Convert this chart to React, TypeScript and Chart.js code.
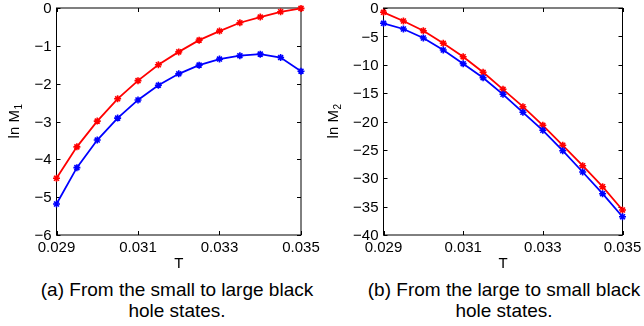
import React, { useEffect, useRef } from "react";
import { Chart, registerables } from "chart.js";

Chart.register(...registerables);

// ---- data ----
const temperatures = [0.029, 0.0295, 0.03, 0.0305, 0.031, 0.0315, 0.032, 0.0325, 0.033, 0.0335, 0.034, 0.0345, 0.035];

const m1Red = [-4.5, -3.67, -2.99, -2.4, -1.92, -1.5, -1.16, -0.85, -0.61, -0.39, -0.24, -0.1, -0.01];
const m1Blue = [-5.18, -4.22, -3.49, -2.91, -2.43, -2.04, -1.74, -1.51, -1.35, -1.26, -1.22, -1.31, -1.67];

const m2Red = [-0.76, -2.29, -4.0, -6.22, -8.58, -11.33, -14.33, -17.39, -20.67, -24.19, -27.79, -31.49, -35.59];
const m2Blue = [-2.7, -3.7, -5.29, -7.4, -9.81, -12.28, -15.21, -18.38, -21.55, -25.15, -28.9, -32.72, -36.78];

const xTicks = [0.029, 0.031, 0.033, 0.035];
const xTickLabels = ["0.029", "0.031", "0.033", "0.035"];
const yTicks1 = [-6, -5, -4, -3, -2, -1, 0];
const yTicks2 = [-40, -35, -30, -25, -20, -15, -10, -5, 0];

const captionA = ["(a) From the small to large black", "hole states."];
const captionB = ["(b) From the large to small black", "hole states."];

const FONT = '"Liberation Sans", Arial, Helvetica, sans-serif';

function fmt(v: number) {
  return v < 0 ? "\u2212" + Math.abs(v) : String(v);
}

type PanelProps = {
  red: number[];
  blue: number[];
  yMin: number;
  yTicks: number[];
  sub: string;
  padLeft: number;
  padRight: number;
  titleX: number;
};

function Panel({ red, blue, yMin, yTicks, sub, padLeft, padRight, titleX }: PanelProps) {
  const ref = useRef<HTMLCanvasElement | null>(null);
  useEffect(() => {
    const canvas = ref.current;
    if (!canvas) return;
    const framePlugin = {
      id: "matlabFrame",
      beforeDatasetsDraw(chart: any) {
        const { ctx, chartArea } = chart;
        const xs = chart.scales.x;
        const ys = chart.scales.y;
        const { left, right, top, bottom } = chartArea;
        ctx.save();
        ctx.strokeStyle = "#000";
        ctx.lineWidth = 1;
        ctx.strokeRect(left, top, right - left, bottom - top);
        const tl = 4;
        ctx.beginPath();
        xTicks.forEach((t) => {
          const px = Math.round(xs.getPixelForValue(t)) + 0.5;
          ctx.moveTo(px, bottom);
          ctx.lineTo(px, bottom - tl);
          ctx.moveTo(px, top);
          ctx.lineTo(px, top + tl);
        });
        yTicks.forEach((t) => {
          const py = Math.round(ys.getPixelForValue(t)) + 0.5;
          ctx.moveTo(left, py);
          ctx.lineTo(left + tl, py);
          ctx.moveTo(right, py);
          ctx.lineTo(right - tl, py);
        });
        ctx.stroke();
        // tick labels
        ctx.fillStyle = "#000";
        ctx.font = `15px ${FONT}`;
        ctx.textAlign = "center";
        ctx.textBaseline = "alphabetic";
        xTicks.forEach((t, i) => {
          ctx.fillText(xTickLabels[i], xs.getPixelForValue(t), bottom + 17);
        });
        ctx.textAlign = "right";
        ctx.textBaseline = "middle";
        yTicks.forEach((t) => {
          ctx.fillText(fmt(t), left - 5, ys.getPixelForValue(t) + 1);
        });
        // x title
        ctx.textAlign = "center";
        ctx.textBaseline = "alphabetic";
        ctx.font = `15px ${FONT}`;
        ctx.fillText("T", (left + right) / 2, bottom + 33);
        // y title with subscript
        ctx.save();
        ctx.translate(titleX, (top + bottom) / 2);
        ctx.rotate(-Math.PI / 2);
        ctx.textAlign = "left";
        ctx.font = `15px ${FONT}`;
        const main = "ln M";
        const wMain = ctx.measureText(main).width;
        ctx.font = `10px ${FONT}`;
        const wSub = ctx.measureText(sub).width;
        const start = -(wMain + wSub) / 2;
        ctx.font = `15px ${FONT}`;
        ctx.fillText(main, start, 0);
        ctx.font = `10px ${FONT}`;
        ctx.fillText(sub, start + wMain + 0.5, 3.5);
        ctx.restore();
        ctx.restore();
      },
    };

    const mk = (vals: number[], color: string) => ({
      data: temperatures.map((t, i) => ({ x: t, y: vals[i] })),
      borderColor: color,
      backgroundColor: color,
      borderWidth: 1.8,
      pointStyle: "star",
      pointRadius: 3.5,
      pointBorderWidth: 1.6,
      pointBorderColor: color,
      pointBackgroundColor: color,
      tension: 0,
      clip: false,
    });

    const chart = new Chart(canvas, {
      type: "line",
      data: {
        datasets: [mk(blue, "#0000ff"), mk(red, "#ff0000")] as any,
      },
      options: {
        animation: false,
        responsive: false,
        maintainAspectRatio: false,
        events: [],
        layout: { padding: { left: padLeft, right: padRight, top: 8, bottom: 35 } },
        plugins: { legend: { display: false }, tooltip: { enabled: false } },
        scales: {
          x: { type: "linear", display: false, min: 0.029, max: 0.035 },
          y: { type: "linear", display: false, min: yMin, max: 0 },
        },
      },
      plugins: [framePlugin],
    });
    return () => chart.destroy();
  }, []);
  return <canvas ref={ref} width={322} height={270} style={{ display: "block", width: 322, height: 270 }} />;
}

function Caption({ lines, center }: { lines: string[]; center: number }) {
  return (
    <div
      style={{
        position: "absolute",
        left: center,
        top: 279,
        transform: "translateX(-50%)",
        whiteSpace: "nowrap",
        textAlign: "center",
        font: `19px ${FONT}`,
        lineHeight: "21px",
        color: "#000",
      }}
    >
      {lines[0]}
      <br />
      {lines[1]}
    </div>
  );
}

export default function App() {
  return (
    <div style={{ position: "fixed", left: 0, top: 0, width: 644, height: 326, background: "#fff", overflow: "hidden" }}>
      <div style={{ position: "absolute", left: 0, top: 0 }}>
        <Panel red={m1Red} blue={m1Blue} yMin={-6} yTicks={yTicks1} sub="1" padLeft={56.5} padRight={21} titleX={18.5} />
      </div>
      <div style={{ position: "absolute", left: 322, top: 0 }}>
        <Panel red={m2Red} blue={m2Blue} yMin={-40} yTicks={yTicks2} sub="2" padLeft={61.5} padRight={21.5} titleX={15.5} />
      </div>
      <Caption lines={captionA} center={177} />
      <Caption lines={captionB} center={504} />
    </div>
  );
}
